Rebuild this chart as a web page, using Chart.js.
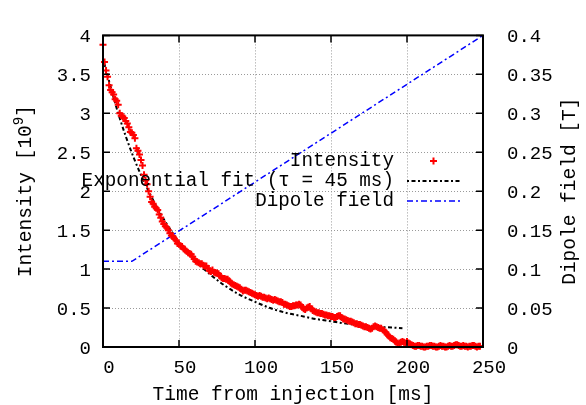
<!DOCTYPE html>
<html>
<head>
<meta charset="utf-8">
<script src="https://cdn.jsdelivr.net/npm/chart.js@4.4.0/dist/chart.umd.min.js"></script>
<style>
  html, body { margin: 0; padding: 0; background: #fff; }
  #wrap { width: 586px; height: 405px; position: relative; }
</style>
</head>
<body>
<div id="wrap"><canvas id="beamChart"></canvas></div>
<script>
// measured beam intensity (10^9 particles) vs time from injection (ms), one sample per ms
const timeMs = [
  0, 1, 2, 3, 4, 5, 6, 7, 8, 9, 10, 11, 12, 13, 14, 15, 16, 17, 18, 19,
  20, 21, 22, 23, 24, 25, 26, 27, 28, 29, 30, 31, 32, 33, 34, 35, 36, 37, 38, 39,
  40, 41, 42, 43, 44, 45, 46, 47, 48, 49, 50, 51, 52, 53, 54, 55, 56, 57, 58, 59,
  60, 61, 62, 63, 64, 65, 66, 67, 68, 69, 70, 71, 72, 73, 74, 75, 76, 77, 78, 79,
  80, 81, 82, 83, 84, 85, 86, 87, 88, 89, 90, 91, 92, 93, 94, 95, 96, 97, 98, 99,
  100, 101, 102, 103, 104, 105, 106, 107, 108, 109, 110, 111, 112, 113, 114, 115, 116, 117, 118, 119,
  120, 121, 122, 123, 124, 125, 126, 127, 128, 129, 130, 131, 132, 133, 134, 135, 136, 137, 138, 139,
  140, 141, 142, 143, 144, 145, 146, 147, 148, 149, 150, 151, 152, 153, 154, 155, 156, 157, 158, 159,
  160, 161, 162, 163, 164, 165, 166, 167, 168, 169, 170, 171, 172, 173, 174, 175, 176, 177, 178, 179,
  180, 181, 182, 183, 184, 185, 186, 187, 188, 189, 190, 191, 192, 193, 194, 195, 196, 197, 198, 199,
  200, 201, 202, 203, 204, 205, 206, 207, 208, 209, 210, 211, 212, 213, 214, 215, 216, 217, 218, 219,
  220, 221, 222, 223, 224, 225, 226, 227, 228, 229, 230, 231, 232, 233, 234, 235, 236, 237, 238, 239,
  240, 241, 242, 243, 244, 245, 246, 247, 248];
const intensity = [
  3.88, 3.66, 3.55, 3.47, 3.36, 3.30, 3.27, 3.24, 3.18, 3.16,
  3.11, 3.00, 2.97, 2.96, 2.94, 2.90, 2.87, 2.82, 2.76, 2.75,
  2.72, 2.68, 2.55, 2.52, 2.47, 2.40, 2.33, 2.21, 2.14, 2.09,
  2.00, 1.93, 1.86, 1.84, 1.80, 1.78, 1.76, 1.70, 1.66, 1.61,
  1.58, 1.55, 1.53, 1.50, 1.46, 1.43, 1.42, 1.39, 1.37, 1.33,
  1.32, 1.30, 1.29, 1.26, 1.25, 1.23, 1.21, 1.20, 1.19, 1.16,
  1.13, 1.10, 1.09, 1.08, 1.07, 1.07, 1.05, 1.04, 1.04, 1.01,
  0.98, 0.97, 0.99, 0.96, 0.95, 0.95, 0.94, 0.91, 0.89, 0.88,
  0.88, 0.87, 0.87, 0.85, 0.82, 0.81, 0.80, 0.79, 0.78, 0.77,
  0.76, 0.74, 0.72, 0.73, 0.73, 0.72, 0.71, 0.70, 0.69, 0.68,
  0.67, 0.66, 0.65, 0.66, 0.65, 0.64, 0.64, 0.63, 0.62, 0.63,
  0.62, 0.61, 0.60, 0.61, 0.60, 0.59, 0.58, 0.58, 0.57, 0.55,
  0.55, 0.54, 0.53, 0.52, 0.52, 0.53, 0.53, 0.54, 0.54, 0.55,
  0.54, 0.51, 0.49, 0.48, 0.50, 0.51, 0.52, 0.49, 0.47, 0.46,
  0.45, 0.44, 0.44, 0.43, 0.43, 0.42, 0.41, 0.41, 0.40, 0.40,
  0.39, 0.39, 0.38, 0.38, 0.39, 0.40, 0.40, 0.38, 0.36, 0.36,
  0.35, 0.34, 0.33, 0.33, 0.32, 0.31, 0.30, 0.30, 0.29, 0.29,
  0.28, 0.27, 0.26, 0.26, 0.25, 0.24, 0.23, 0.24, 0.26, 0.27,
  0.26, 0.25, 0.24, 0.24, 0.22, 0.21, 0.19, 0.16, 0.14, 0.12,
  0.11, 0.10, 0.08, 0.06, 0.04, 0.05, 0.06, 0.07, 0.06, 0.05,
  0.07, 0.05, 0.04, 0.03, 0.02, 0.01, 0.01, 0.02, 0.02, 0.01,
  0.01, 0.00, 0.00, 0.01, 0.01, 0.02, 0.02, 0.01, 0.01, 0.00,
  0.00, 0.01, 0.02, 0.01, 0.01, 0.00, 0.00, 0.01, 0.02, 0.01,
  0.01, 0.02, 0.03, 0.03, 0.02, 0.01, 0.01, 0.02, 0.01, 0.01,
  0.00, 0.01, 0.01, 0.02, 0.02, 0.01, 0.00, 0.01, 0.01];

// exponential fit curve
const fitTime = [0, 10, 20, 30, 40, 50, 60, 70, 80, 90, 100, 110, 120, 130, 140, 150, 160, 170, 180, 190, 197];
const fitIntensity = [3.70, 3.00, 2.44, 2.00, 1.64, 1.35, 1.12, 0.94, 0.79, 0.67, 0.58, 0.50, 0.44, 0.40, 0.36, 0.33, 0.30, 0.28, 0.26, 0.25, 0.24];

// dipole field ramp (T)
const fieldTime = [0, 19, 250];
const fieldTesla = [0.11, 0.11, 0.40];

const seriesLabels = ['Intensity', 'Exponential fit (\u03c4 = 45 ms)', 'Dipole field'];

const FONT = '"Liberation Mono", "DejaVu Sans Mono", monospace';
Chart.defaults.font.family = FONT;
Chart.defaults.color = '#000';

function toPoints(xs, ys) {
  return xs.map((x, i) => ({ x: x, y: ys[i] }));
}

// frame with inward ticks, axis titles and key, drawn gnuplot-style
const framePlugin = {
  id: 'frame',
  afterDatasetsDraw(chart) {
    const { ctx, chartArea: a, scales } = chart;
    ctx.save();
    ctx.strokeStyle = '#000';
    ctx.lineWidth = 1.5;
    ctx.setLineDash([]);
    ctx.beginPath();
    scales.x.ticks.forEach(t => {
      const px = scales.x.getPixelForValue(t.value);
      ctx.moveTo(px, a.bottom); ctx.lineTo(px, a.bottom - 7);
      ctx.moveTo(px, a.top); ctx.lineTo(px, a.top + 7);
    });
    scales.y.ticks.forEach(t => {
      const py = scales.y.getPixelForValue(t.value);
      ctx.moveTo(a.left, py); ctx.lineTo(a.left + 7, py);
    });
    scales.y2.ticks.forEach(t => {
      const py = scales.y2.getPixelForValue(t.value);
      ctx.moveTo(a.right, py); ctx.lineTo(a.right - 7, py);
    });
    ctx.stroke();
    ctx.lineWidth = 2;
    ctx.strokeRect(a.left, a.top, a.right - a.left, a.bottom - a.top);
    ctx.restore();
  },
  afterDraw(chart) {
    const { ctx, chartArea: a } = chart;
    const midY = (a.top + a.bottom) / 2;
    const big = '19.5px ' + FONT;
    const small = '14px ' + FONT;
    ctx.save();
    ctx.fillStyle = '#000';
    ctx.textBaseline = 'middle';

    // left title with superscript
    ctx.save();
    ctx.translate(26, midY);
    ctx.rotate(-Math.PI / 2);
    const p1 = 'Intensity [10', p3 = ']';
    ctx.font = big;
    const w1 = ctx.measureText(p1).width;
    const w3 = ctx.measureText(p3).width;
    ctx.font = small;
    const w2 = ctx.measureText('9').width;
    const sx = -(w1 + w2 + w3) / 2;
    ctx.textAlign = 'left';
    ctx.font = big;
    ctx.fillText(p1, sx, 0);
    ctx.font = small;
    ctx.fillText('9', sx + w1, -7);
    ctx.font = big;
    ctx.fillText(p3, sx + w1 + w2, 0);
    ctx.restore();

    // right title, reading bottom to top
    ctx.save();
    ctx.translate(570, midY);
    ctx.rotate(-Math.PI / 2);
    ctx.font = big;
    ctx.textAlign = 'center';
    ctx.fillText('Dipole field [T]', 0, 0);
    ctx.restore();

    // key
    ctx.font = '19.3px ' + FONT;
    ctx.textAlign = 'right';
    const rowY = [161, 181, 201];
    chart.data.datasets.forEach((ds, i) => {
      const y = rowY[i];
      ctx.fillStyle = '#000';
      ctx.fillText(ds.label, 394, y);
      ctx.save();
      ctx.strokeStyle = ds.borderColor;
      if (i === 0) {
        ctx.lineWidth = 2;
        ctx.beginPath();
        ctx.moveTo(430, y); ctx.lineTo(437, y);
        ctx.moveTo(433.5, y - 3.5); ctx.lineTo(433.5, y + 3.5);
        ctx.stroke();
      } else {
        ctx.lineWidth = ds.borderWidth;
        ctx.setLineDash(ds.borderDash);
        ctx.beginPath();
        ctx.moveTo(407, y); ctx.lineTo(460, y);
        ctx.stroke();
      }
      ctx.restore();
    });
    ctx.restore();
  }
};

const gridColor = '#9a9a9a';

new Chart(document.getElementById('beamChart'), {
  type: 'line',
  data: {
    datasets: [
      {
        label: seriesLabels[0],
        data: toPoints(timeMs, intensity),
        showLine: false,
        pointStyle: 'cross',
        pointRadius: 3.5,
        pointBorderWidth: 2,
        borderColor: '#ff0000',
        backgroundColor: '#ff0000',
        yAxisID: 'y',
        clip: false
      },
      {
        label: seriesLabels[1],
        data: toPoints(fitTime, fitIntensity),
        borderColor: '#000000',
        borderWidth: 2,
        borderDash: [2, 2.5, 4, 2.5],
        pointRadius: 0,
        cubicInterpolationMode: 'monotone',
        yAxisID: 'y'
      },
      {
        label: seriesLabels[2],
        data: toPoints(fieldTime, fieldTesla),
        borderColor: '#0000ff',
        borderWidth: 1.5,
        borderDash: [6, 3, 2, 3],
        pointRadius: 0,
        tension: 0,
        yAxisID: 'y2'
      }
    ]
  },
  options: {
    responsive: true,
    maintainAspectRatio: false,
    animation: false,
    layout: { padding: { top: 14, left: 0, right: 0, bottom: 0 } },
    plugins: {
      legend: { display: false },
      tooltip: { enabled: false }
    },
    scales: {
      x: {
        type: 'linear',
        min: 0,
        max: 250,
        afterFit: s => { s.height = 58; },
        ticks: { stepSize: 50, padding: 10, labelOffset: 6, font: { size: 19 }, color: '#000' },
        grid: { color: gridColor, lineWidth: 1, drawTicks: false },
        border: { display: false, dash: [1, 2] },
        title: {
          display: true,
          text: 'Time from injection [ms]',
          font: { size: 19.5, lineHeight: 1 },
          padding: { top: 0, bottom: 0 }
        }
      },
      y: {
        position: 'left',
        min: 0,
        max: 4,
        afterFit: s => { s.width = 103; },
        ticks: {
          stepSize: 0.5,
          padding: 12,
          labelOffset: 2,
          font: { size: 19 },
          color: '#000',
          callback: v => String(Math.round(v * 10) / 10)
        },
        grid: { color: gridColor, lineWidth: 1, drawTicks: false },
        border: { display: false, dash: [1, 2] }
      },
      y2: {
        position: 'right',
        min: 0,
        max: 0.4,
        afterFit: s => { s.width = 103; },
        ticks: {
          stepSize: 0.05,
          padding: 24,
          labelOffset: 2,
          font: { size: 19 },
          color: '#000',
          callback: v => String(Math.round(v * 100) / 100)
        },
        grid: { display: false, drawTicks: false },
        border: { display: false }
      }
    }
  },
  plugins: [framePlugin]
});
</script>
</body>
</html>
